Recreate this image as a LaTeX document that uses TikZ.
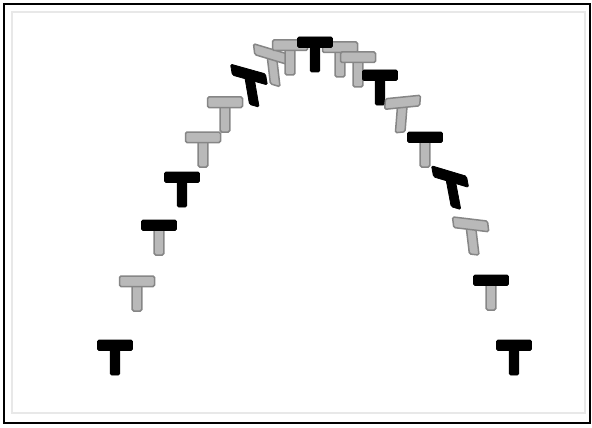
\documentclass[tikz,border=0pt]{standalone}
\usetikzlibrary{calc}

\tikzset{
  inkpart/.style={fill=black,draw=black,line width=0.8pt,rounded corners=1.5pt},
  greypart/.style={fill=gray!55,draw=gray!95,line width=1.5pt,rounded corners=1.5pt},
  pics/tee/.style 2 args={code={
    \path[#2] (-4.8,9) rectangle (4.8,35);
    \path[#1] (-17.5,0) rectangle (17.5,10.5);
  }},
}

\begin{document}
\begin{tikzpicture}[x=1pt,y=-1pt]
  \useasboundingbox (0,0) rectangle (592,428);
  \fill[white] (0,0) rectangle (592,428);
  \draw[gray!18,line width=2.5pt] (12,12) rectangle (585,413);
  \draw[black,line width=2.2pt] (4,4) rectangle (590,423);
  % flight of the T, bar top centre / slants / parts
  \foreach \x/\y/\ys/\xs/\barp/\stemp in {
      115/340/0/0/inkpart/inkpart,
      137/276/0/0/greypart/greypart,
      159/220/0/0/inkpart/greypart,
      182/172/0/0/inkpart/inkpart,
      203/132/0/0/greypart/greypart,
      225/97/0/0/greypart/greypart,
      248/69/-0.28/-0.18/inkpart/inkpart,
      271/49/-0.3/-0.12/greypart/greypart,
      290/40/0/0/greypart/greypart,
      340/42/0/0/greypart/greypart,
      358/52/0/0/greypart/greypart,
      380/70/0/0/inkpart/inkpart,
      403/97/0.1/0.08/greypart/greypart,
      425/132/0/0/inkpart/greypart,
      449/171/-0.3/-0.2/inkpart/inkpart,
      470/219/-0.12/-0.12/greypart/greypart,
      491/275/0/0/inkpart/greypart,
      514/340/0/0/inkpart/inkpart,
      315/37/0/0/inkpart/inkpart} {
    \pic[yslant=\ys,xslant=\xs] at (\x,\y) {tee={\barp}{\stemp}};
  }
\end{tikzpicture}
\end{document}
